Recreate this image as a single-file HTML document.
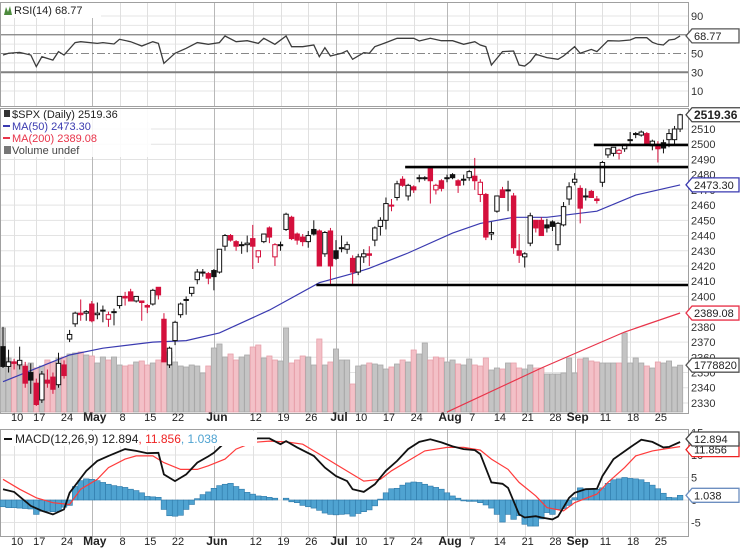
<!DOCTYPE html>
<html><head><meta charset="utf-8">
<style>
html,body{margin:0;padding:0;background:#fff;}
svg{display:block;font-family:"Liberation Sans",sans-serif;}
</style></head>
<body>
<svg id="chart" width="740" height="555" viewBox="0 0 740 555" xmlns="http://www.w3.org/2000/svg">
<g id="grid"></g>
<g id="vol"></g>
<g id="lines"></g>
<g id="candles"></g>
<g id="annot"></g>
<g id="axes"></g>
<g id="legends"></g>
</svg>
<script>
// ---------- DATA ----------
const opens=[2367,2354,2357,2355,2354,2350,2343,2332,2345,2347,2342,2355,2372,2382,2389,2389,2395,2388,2391,2385,2390,2394,2400,2403,2397,2397,2394,2395,2406,2385,2355,2371,2388,2398,2402,2411,2416,2415,2417,2416,2433,2440,2436,2434,2434,2438,2426,2436,2445,2426,2434,2444,2452,2441,2439,2436,2444,2443,2428,2443,2430,2432,2431,2425,2416,2426,2428,2437,2446,2450,2460,2465,2477,2466,2472,2478,2478,2484,2470,2476,2478,2480,2476,2477,2478,2479,2467,2467,2441,2456,2470,2470,2466,2430,2426,2435,2450,2450,2447,2449,2434,2447,2464,2475,2471,2466,2469,2464,2475,2493,2494,2494,2497,2503,2507,2506,2507,2499,2500,2501,2503,2503,2510];
const highs=[2380,2365,2359,2367,2357,2356,2346,2351,2352,2350,2363,2358,2378,2390,2398,2391,2397,2396,2394,2390,2392,2400,2403,2405,2400,2397,2395,2405,2406,2389,2367,2384,2396,2400,2406,2418,2418,2416,2418,2431,2441,2441,2437,2436,2440,2447,2430,2441,2446,2435,2436,2455,2453,2442,2441,2443,2450,2444,2443,2445,2437,2440,2436,2427,2428,2431,2433,2446,2452,2465,2464,2476,2479,2474,2473,2480,2479,2484,2474,2477,2480,2481,2477,2480,2483,2491,2477,2468,2449,2466,2472,2476,2468,2441,2429,2455,2450,2452,2451,2450,2449,2462,2475,2481,2473,2471,2470,2466,2489,2497,2498,2497,2500,2508,2508,2509,2508,2503,2502,2503,2510,2512,2520];
const lows=[2353,2350,2352,2352,2340,2336,2328,2330,2340,2336,2340,2346,2370,2380,2384,2384,2383,2385,2383,2380,2381,2392,2394,2397,2396,2384,2389,2394,2398,2357,2353,2368,2386,2388,2400,2408,2413,2408,2404,2415,2430,2436,2430,2428,2429,2418,2422,2435,2435,2420,2430,2443,2437,2434,2433,2432,2440,2420,2426,2408,2424,2429,2428,2407,2414,2422,2420,2433,2440,2444,2456,2463,2472,2463,2468,2475,2476,2461,2467,2469,2475,2477,2468,2473,2476,2470,2462,2437,2437,2455,2465,2456,2428,2422,2419,2433,2442,2440,2442,2443,2430,2446,2460,2473,2448,2463,2465,2461,2472,2491,2492,2490,2495,2500,2504,2505,2499,2496,2488,2494,2498,2500,2508];
const closes=[2354,2357,2356,2358,2343,2345,2329,2349,2343,2339,2356,2348,2375,2389,2388,2390,2384,2389,2391,2388,2390,2400,2399,2397,2400,2396,2393,2404,2401,2357,2366,2383,2395,2398,2406,2416,2416,2412,2413,2431,2440,2437,2433,2434,2435,2433,2430,2441,2439,2434,2434,2454,2438,2437,2436,2440,2441,2420,2442,2420,2425,2432,2434,2416,2426,2428,2427,2445,2450,2461,2460,2474,2473,2473,2470,2478,2478,2476,2473,2471,2478,2478,2473,2477,2482,2476,2475,2439,2442,2466,2465,2470,2432,2427,2428,2453,2445,2440,2445,2446,2448,2459,2472,2477,2458,2466,2465,2463,2488,2497,2498,2496,2500,2503,2507,2508,2500,2502,2497,2497.5,2507,2510,2519.36];
const volumesK=[3192,2052,1900,1748,1786,1862,1672,1748,1976,1900,2052,2090,2204,2242,2280,2166,2128,1862,2090,1976,2090,1786,1748,1786,1900,1938,1786,1862,1976,2090,2280,1900,1748,1710,1786,1748,1482,1748,2432,2584,2090,2204,1976,2090,2166,2470,2546,2052,2128,1976,1938,3192,1862,1976,2128,2090,1786,2774,1786,1900,2394,1976,1976,1064,1748,1786,1862,1824,1786,1634,1710,1824,1976,1900,2356,2204,2622,1976,2090,2052,1900,1976,1824,1786,2014,1786,1748,2052,1596,1672,1634,1862,1862,1672,1634,1786,1672,1672,1444,1444,1444,1482,2052,1482,2014,2052,1938,1900,1862,1862,1862,1862,3002,1862,2052,1862,1748,1672,1900,1862,1938,1710,1779];
const ma50Idx=[0,12,18,27,33,39,48,57,63,66,73,81,86,92,98,107,114,122];
const ma50Val=[2344,2361.5,2366,2370,2371,2376,2391,2409,2415,2418.5,2428.5,2441.6,2448,2452,2452,2456,2466.6,2473.3];
const ma200Idx=[80,97,112,122];
const ma200Val=[2324,2353,2376.6,2389.08];
const rsiIdx=[0,1,3,5,6,7,9,10,11,13,14,17,18,20,21,23,25,27,28,29,31,33,35,37,39,40,42,44,46,47,49,51,52,54,56,57,58,59,61,62,63,65,66,67,69,71,74,75,77,79,81,83,85,86,87,88,90,92,93,94,95,96,98,100,101,103,104,106,107,109,111,113,114,116,117,118,119,120,121,122];
const rsiVal=[48.4,50.2,51.2,48.4,36,46.6,43,52,48.4,61.6,62.6,60.8,61.6,60.1,65.1,62.6,58,62.6,60.8,39.5,50.2,55.5,61.6,59.8,61.6,68.7,62.6,63.7,60.8,66.2,59.8,68.7,57.3,57.3,59.1,46.6,56.2,47.3,50.2,53,43.8,50.9,50.2,57.3,61.6,66.2,66.2,63.3,66.2,63.7,63.7,59.8,62.6,59.1,57.3,37.7,52,52.7,37.7,36.7,41.3,49.1,45.6,43.8,47.3,57.3,50.2,54.4,52,63.7,63.3,64.4,66.9,66.9,61.9,59.8,59.1,64.4,65.1,68.77];
const macdIdx=[0,2,5,7,9,11,12,15,17,19,22,24,26,28,29,31,33,35,37,38,40,46,48,50,51,53,56,58,60,62,63,65,67,69,71,73,75,77,79,81,83,85,86,88,90,91,93,94,96,97,99,100,102,103,105,107,108,110,113,115,117,119,120,122];
const macdVal=[2.4,1.8,-1.3,-2.4,-3.2,-2.1,1.6,6.5,8.7,9.8,11.3,10.9,10.4,10.5,5.7,4.2,5.7,8.3,9.7,10.5,12.8,13.7,13.7,12.4,13.1,11.7,9.8,7.2,5.3,4.2,2.4,1.8,3.5,6.5,8.7,11.3,12.9,13.5,12.8,11.9,11.3,11.1,10.2,3.9,3.6,2.7,-3.2,-3.9,-3.6,-3.9,-4.3,-3.7,0.5,1.6,2.4,2.5,5.3,9.1,11.7,13.4,12.9,11.7,11.8,12.894];
const sigIdx=[0,3,6,9,12,14,17,19,22,24,27,29,32,35,37,40,42,45,48,51,54,57,60,63,65,68,70,73,76,80,83,86,88,91,93,96,98,101,103,107,109,112,114,117,119,122];
const sigVal=[4.6,2.4,0.5,-0.6,-1.0,2.4,4.6,7.2,9.1,9.8,9.8,8.3,6.8,6.8,7.6,9.1,11.3,12.8,13.1,12.9,12.4,10.2,7.9,5.7,4.2,4.6,6.5,8.7,10.9,11.7,11.7,11.1,9.1,6.8,3.9,0.9,-1.7,-2.4,-0.6,1.3,3.9,7.2,9.8,10.9,11.3,11.856];
const histVal=[-1.5,-1.7,-1.7,-1.8,-1.9,-2.0,-3.2,-2.5,-2.5,-2.6,-2.5,-1.6,-1.2,3.0,4.3,4.7,4.6,4.3,3.9,3.5,3.2,3.0,2.8,2.4,2.1,1.6,0.8,0.7,0.6,-2.1,-3.5,-3.6,-3.4,-2.1,-1.0,0.3,1.2,1.8,2.6,3.2,3.5,3.7,3.0,2.4,1.7,1.3,0.9,0.8,0.6,0.4,0.0,0.4,-0.4,-0.6,-1.2,-1.5,-1.8,-2.3,-2.9,-3.2,-3.3,-3.2,-3.1,-3.6,-3.0,-2.6,-2.2,-1.3,0.2,1.6,2.5,2.6,3.3,3.8,4.0,3.9,3.5,3.1,2.8,2.4,1.6,0.9,0.4,-0.2,-0.3,-0.3,-0.6,-1.1,-1.8,-3.2,-4.9,-3.2,-4.3,-3.5,-5.4,-5.8,-5.8,-4.2,-2.8,-3.2,-2.1,-1.9,-1.2,0.5,2.7,2.5,2.4,2.4,2.7,3.7,4.5,4.7,5.0,4.8,4.7,4.5,3.9,3.3,2.5,1.5,0.6,0.5,1.038];
const priceTicks=[2510,2500,2490,2480,2470,2460,2450,2440,2430,2420,2410,2400,2390,2380,2370,2360,2350,2340,2330];
const rsiTicks=[90,50,30,10];
const macdTicks=[15,10,5,0,-5];
const dateIdx=[2,6,11,16,21,26,31,38,45,50,55,60,64,69,74,80,84,89,94,99,103,108,113,118];
const dateText=['10','17','24','May','8','15','22','Jun','12','19','26','Jul','10','17','24','Aug','7','14','21','28','Sep','11','18','25'];
const supportLevels=[2407.5,2485,2499.5];
const supportStartIdx=[57,73,107];

// ---------- SCALES ----------
const PR=688;
const xI=i=>3+i*5.55;
const yP=p=>129+(2510-p)*1.522;
const yR=v=>16+(90-v)*0.9375;
const yM=m=>500-m*4.5;
const yV=v=>412-v/38;
const NS='http://www.w3.org/2000/svg';
function mk(tag,parent,attrs){const e=document.createElementNS(NS,tag);for(const k in attrs)e.setAttribute(k,attrs[k]);parent.appendChild(e);return e;}
const G=id=>document.getElementById(id);
const grid=G('grid'),vol=G('vol'),lines=G('lines'),cg=G('candles'),ann=G('annot'),ax=G('axes'),lg=G('legends');

// panels
const panels=[[0,2,106],[0,108,413],[0,429,536]];
const pnames=['rsi-panel','price-panel','macd-panel'];
panels.forEach((p,k)=>{const r=mk('rect',grid,{x:0.5,y:p[1]+0.5,width:PR,height:p[2]-p[1],fill:'#fff',stroke:'#a0a0a0'});
});

// horizontal grid
priceTicks.forEach(t=>{mk('line',grid,{x1:1,x2:PR,y1:yP(t),y2:yP(t),stroke:'#e3e3e3'});});
[10,20,40,60,80,90].forEach(t=>mk('line',grid,{x1:1,x2:PR,y1:yR(t),y2:yR(t),stroke:'#e6e6e6'}));
macdTicks.forEach(t=>mk('line',grid,{x1:1,x2:PR,y1:yM(t),y2:yM(t),stroke:'#e3e3e3'}));
// vertical grid
dateIdx.forEach((d,k)=>{const bold=isNaN(+dateText[k]);const x=Math.round(xI(d))+0.5;
panels.forEach(p=>mk('line',grid,{x1:x,x2:x,y1:p[1]+1,y2:p[2],stroke:bold?'#b8b8b8':'#e0e0e0'}));});

// RSI reference lines
[70,30].forEach(t=>mk('line',grid,{x1:1,x2:PR,y1:yR(t),y2:yR(t),stroke:'#808080','stroke-width':t==30?2:1.2}));
mk('line',grid,{x1:1,x2:PR,y1:yR(50),y2:yR(50),stroke:'#888','stroke-dasharray':'8,3,2,3'});

// volume
closes.forEach((c,i)=>{const up=i==0||c>=closes[i-1];const y=yV(volumesK[i]);
const r=mk('rect',vol,{x:xI(i)-2.6,y:y,width:5.2,height:412-y,fill:up?'#c4c4c4':'#f3c0c7',stroke:up?'#a9a9a9':'#e7a0aa','stroke-width':0.8});
});

// lines
function path(idx,val,yf){return idx.map((i,k)=>(k?'L':'M')+xI(i).toFixed(1)+','+yf(val[k]).toFixed(1)).join('');}
let e;
e=mk('path',lines,{d:path(ma50Idx,ma50Val,yP),fill:'none',stroke:'#3a3ab0','stroke-width':1.2});

e=mk('path',lines,{d:path(ma200Idx,ma200Val,yP),fill:'none',stroke:'#e8344a','stroke-width':1.2,'clip-path':'url(#pc)'});

e=mk('path',lines,{d:path(rsiIdx,rsiVal,yR),fill:'none',stroke:'#3c3c3c','stroke-width':1.3});

// hist
histVal.forEach((h,i)=>{const y0=yM(0),y1=yM(h);
const r=mk('rect',lines,{x:xI(i)-2.8,y:Math.min(y0,y1),width:5.6,height:Math.abs(y1-y0),fill:'#4fa3d1',stroke:'#2d78a8','stroke-width':0.6});
});
e=mk('path',lines,{d:path(sigIdx,sigVal,yM),fill:'none',stroke:'#ff3b3b','stroke-width':1.2});

e=mk('path',lines,{d:path(macdIdx,macdVal,yM),fill:'none',stroke:'#111','stroke-width':1.8});


// candles
closes.forEach((c,i)=>{const o=opens[i];const red=i>0&&c<closes[i-1];const col=red?'#d4103c':'#111';const filled=c<o;
const x=xI(i);const g=mk('g',cg,{});

mk('line',g,{x1:x,x2:x,y1:yP(highs[i]),y2:yP(lows[i]),stroke:col,'stroke-width':1});
const top=yP(Math.max(o,c)),bot=yP(Math.min(o,c));
mk('rect',g,{x:x-2.2,y:top,width:4.4,height:Math.max(1,bot-top),fill:filled?col:'#fff',stroke:col,'stroke-width':1});});

// support lines
supportLevels.forEach((p,k)=>{const l=mk('line',ann,{x1:xI(supportStartIdx[k])-3,x2:PR,y1:yP(p),y2:yP(p),stroke:'#000','stroke-width':2.6});
});

// axis labels
function txt(parent,x,y,s,attrs){const t=mk('text',parent,Object.assign({x:x,y:y,'font-size':11,fill:'#333'},attrs||{}));t.textContent=s;return t;}
priceTicks.forEach(t=>{const e=txt(ax,691,yP(t)+4,String(t));});
rsiTicks.forEach(t=>{const e=txt(ax,691,yR(t)+4,String(t));});
macdTicks.forEach(t=>{const e=txt(ax,691,yM(t)+4,String(t));});
[421,545].forEach(y=>dateIdx.forEach((d,k)=>{const b=isNaN(+dateText[k]);
const e=txt(ax,xI(d)+3,y,dateText[k],{'text-anchor':'middle','font-weight':b?'bold':'normal',fill:'#222','font-size':b?12:11});
}));

// value tags
function tag(y,s,stroke,bold,name){const g=mk('g',ax,{});
const w=bold?49:47;mk('path',g,{d:`M686,${y} L692,${y-7} L${692+w},${y-7} L${692+w},${y+7} L692,${y+7} Z`,fill:'#fff',stroke:stroke,'stroke-width':1.3});
txt(g,694,y+4,s,{'font-weight':bold?'bold':'normal',fill:'#222','font-size':bold?12:11});}
tag(yR(68.77),'68.77','#555',false,'rsi-value-tag');
tag(yP(2519.36),'2519.36','#444',true,'price-value-tag');
tag(yP(2473.3),'2473.30','#3a3ab0',false,'ma50-value-tag');
tag(yP(2389.08),'2389.08','#e8344a',false,'ma200-value-tag');
tag(yV(1779),'1778820','#555',false,'volume-value-tag');
tag(yM(11.856)+3,'11.856','#ee2222',false,'signal-value-tag');
tag(yM(12.894)-3,'12.894','#444',false,'macd-value-tag');
tag(yM(1.038),'1.038','#6d8fc0',false,'hist-value-tag');

// legends
let r=mk('rect',lg,{x:1,y:3,width:100,height:15,fill:'#fff'});
mk('path',lg,{d:'M4,15 L6,7 L8,12 L10,6 L12,15 Z',fill:'#4c8a3c'});
e=txt(lg,14,14,'RSI(14) 68.77',{'font-size':11,fill:'#222'});
mk('rect',lg,{x:1,y:109,width:150,height:48,fill:'#fff','fill-opacity':0.85});
mk('rect',lg,{x:4,y:110,width:6,height:7,fill:'#333'});
e=txt(lg,12,118,'$SPX (Daily) 2519.36',{'font-size':11,fill:'#222'});
mk('line',lg,{x1:3,x2:10,y1:126,y2:126,stroke:'#3a3ab0','stroke-width':2});
e=txt(lg,12,130,'MA(50) 2473.30',{'font-size':11,fill:'#3a3ab0'});
mk('line',lg,{x1:3,x2:10,y1:138,y2:138,stroke:'#e8344a','stroke-width':2});
e=txt(lg,12,142,'MA(200) 2389.08',{'font-size':11,fill:'#e8344a'});
mk('rect',lg,{x:4,y:146,width:7,height:8,fill:'#777'});
e=txt(lg,12,154,'Volume undef',{'font-size':11,fill:'#444'});
mk('rect',lg,{x:1,y:431,width:256,height:15,fill:'#fff'});
mk('line',lg,{x1:4,x2:12,y1:439,y2:439,stroke:'#111','stroke-width':2});
const mt=mk('text',lg,{x:15,y:443,'font-size':12,fill:'#222'});

[['MACD(12,26,9) 12.894','#222'],[', 11.856','#ee2222'],[', 1.038','#4fa3d1']].forEach(a=>{const s=mk('tspan',mt,{fill:a[1]});s.textContent=a[0];});

// clip for ma200
const defs=mk('defs',G('chart'),{});const cp=mk('clipPath',defs,{id:'pc'});mk('rect',cp,{x:0,y:108,width:PR,height:305});
</script>
</body></html>
